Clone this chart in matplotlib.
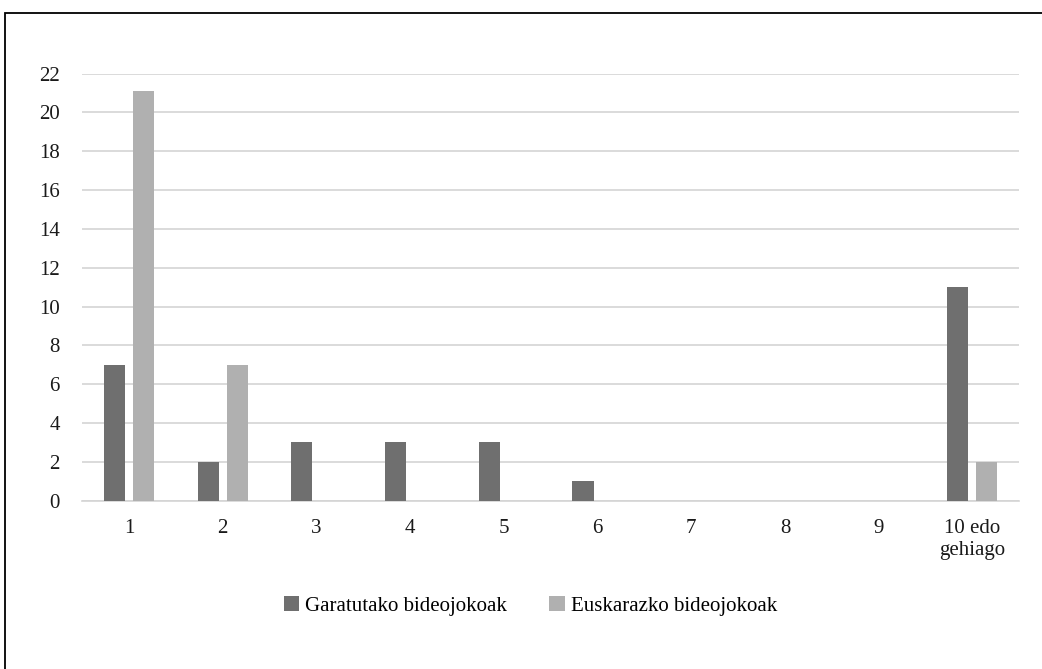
import numpy as np
import matplotlib.pyplot as plt
from matplotlib.patches import Rectangle

plt.rcParams['font.family'] = ['Liberation Serif', 'DejaVu Serif']

kategoriak = ['1', '2', '3', '4', '5', '6', '7', '8', '9', '10 edo\ngehiago']
garatutako = [7, 2, 3, 3, 3, 1, 0, 0, 0, 11]
euskarazko = [21.1, 7, 0, 0, 0, 0, 0, 0, 0, 2]

fig = plt.figure(figsize=(10.42, 6.69), dpi=100)
ax = fig.add_axes([0.0787, 0.2516, 0.8995, 0.6385])

x = np.arange(len(kategoriak))
w = 0.225
ax.bar(x - 0.155, garatutako, w, color='#6f6f6f', label='Garatutako bideojokoak', zorder=3)
ax.bar(x + 0.155, euskarazko, w, color='#b0b0b0', label='Euskarazko bideojokoak', zorder=3)

ax.set_xlim(-0.5, len(kategoriak) - 0.5)
ax.set_ylim(0, 22)
ax.set_yticks(range(0, 23, 2))
ax.set_xticks(x)
ax.set_xticklabels(kategoriak, linespacing=1.2)
ax.yaxis.grid(True, color='#d4d4d4', linewidth=1.2, zorder=0)
ax.tick_params(axis='both', length=0, labelsize=15, colors='#1a1a1a')
ax.tick_params(axis='y', pad=16)
ax.tick_params(axis='x', pad=13)
for s in ['top', 'right', 'left']:
    ax.spines[s].set_visible(False)
ax.spines['bottom'].set_color('#d4d4d4')
ax.spines['bottom'].set_linewidth(1.2)

fig.legend(loc='center', bbox_to_anchor=(0.509, 1 - 606 / 669), ncol=2,
           frameon=False, fontsize=15, handlelength=0.75, handleheight=0.75,
           handletextpad=0.3, columnspacing=2.0)

# marko orokorra
fig.patches.append(Rectangle((4.5 / 1042, -0.1), 1.2, 1 - 12.5 / 669 + 0.1,
                             transform=fig.transFigure, fill=False,
                             edgecolor='black', linewidth=1.3))

fig.savefig('out.png', dpi=100)
